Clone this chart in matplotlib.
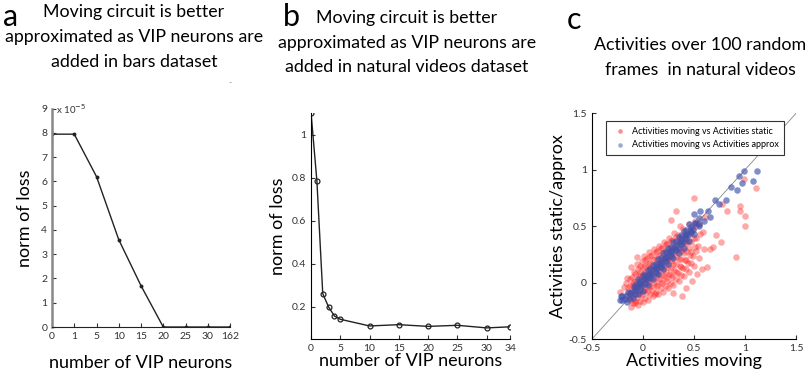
import matplotlib
matplotlib.use("Agg")
import matplotlib.pyplot as plt

plt.rcParams['font.family'] = ['Lato', 'DejaVu Sans']

# ---------------- Panel a data ----------------
a_labels = ['0', '1', '5', '10', '15', '20', '25', '30', '162']
a_loss = [7.95, 7.95, 6.2, 3.6, 1.7, 0.0, 0.0, 0.0, 0.0]   # x 1e-5

# ---------------- Panel b data ----------------
b_x = [0, 1, 2, 3, 4, 5, 10, 15, 20, 25, 30, 34]
b_loss = [1.1, 0.785, 0.262, 0.200, 0.158, 0.143, 0.112, 0.118, 0.110, 0.115, 0.103, 0.108]
b_ticks = [0, 5, 10, 15, 20, 25, 30, 34]

# ---------------- Panel c data ----------------
red_x = [-0.15, -0.14, -0.16, -0.13, -0.15,
         -0.10, -0.11, -0.09, -0.10, -0.11, -0.09, -0.10,
         -0.05, -0.06, -0.04, -0.05, -0.06, -0.04, -0.05, -0.06,
         0.00, -0.01, 0.01, 0.00, -0.01, 0.01, 0.00, -0.01, 0.01,
         0.05, 0.04, 0.06, 0.05, 0.04, 0.06, 0.05, 0.04, 0.06,
         0.10, 0.09, 0.11, 0.10, 0.09, 0.11, 0.10, 0.09, 0.11,
         0.15, 0.14, 0.16, 0.15, 0.14, 0.16, 0.15, 0.14, 0.16,
         0.20, 0.19, 0.21, 0.20, 0.19, 0.21, 0.20, 0.19, 0.21,
         0.25, 0.24, 0.26, 0.25, 0.24, 0.26, 0.25, 0.24, 0.26,
         0.30, 0.29, 0.31, 0.30, 0.29, 0.31, 0.30, 0.29, 0.31,
         0.35, 0.34, 0.36, 0.35, 0.34, 0.36, 0.35, 0.34, 0.36,
         0.40, 0.39, 0.41, 0.40, 0.39, 0.41, 0.40, 0.39,
         0.45, 0.44, 0.46, 0.45, 0.44, 0.46, 0.45,
         0.50, 0.49, 0.51, 0.50, 0.49, 0.51,
         0.55, 0.54, 0.56, 0.55,
         0.60, 0.59, 0.61,
         -0.125, -0.125, -0.125, -0.125,
         -0.075, -0.075, -0.075, -0.075, -0.075,
         -0.025, -0.025, -0.025, -0.025, -0.025, -0.025, -0.025,
         0.025, 0.025, 0.025, 0.025, 0.025, 0.025, 0.025,
         0.075, 0.075, 0.075, 0.075, 0.075, 0.075, 0.075,
         0.125, 0.125, 0.125, 0.125, 0.125, 0.125, 0.125,
         0.175, 0.175, 0.175, 0.175, 0.175, 0.175, 0.175,
         0.225, 0.225, 0.225, 0.225, 0.225, 0.225, 0.225,
         0.275, 0.275, 0.275, 0.275, 0.275, 0.275, 0.275,
         0.325, 0.325, 0.325, 0.325, 0.325, 0.325, 0.325,
         0.375, 0.375, 0.375, 0.375, 0.375, 0.375,
         0.425, 0.425, 0.425, 0.425, 0.425,
         0.475, 0.475, 0.475, 0.475,
         0.525, 0.525, 0.525,
         0.50, 0.78, 0.95, 0.99, 1.11, 1.00, 1.00, 0.95, 0.91, 0.77,
         0.69, 0.63, 0.53, 0.38, 0.30, 0.33, 0.28, 0.82, -0.22, -0.12,
         -0.08, -0.06, -0.12, 0.42, 0.58, 0.66, 0.72, 0.48, -0.18, 0.12]
red_y = [-0.10, -0.05, 0.00, -0.14, 0.04,
         -0.18, -0.12, -0.06, 0.00, 0.05, 0.10, -0.02,
         -0.20, -0.13, -0.08, -0.03, 0.02, 0.07, 0.12, 0.17,
         -0.17, -0.11, -0.06, -0.01, 0.04, 0.09, 0.14, 0.19, 0.24,
         -0.15, -0.08, -0.03, 0.02, 0.07, 0.12, 0.17, 0.22, 0.27,
         -0.12, -0.06, 0.00, 0.05, 0.10, 0.15, 0.20, 0.25, 0.30,
         -0.10, -0.03, 0.03, 0.08, 0.13, 0.18, 0.23, 0.28, 0.33,
         -0.08, 0.00, 0.06, 0.11, 0.16, 0.21, 0.26, 0.31, 0.36,
         -0.05, 0.02, 0.08, 0.14, 0.19, 0.24, 0.29, 0.34, 0.40,
         -0.02, 0.05, 0.11, 0.17, 0.22, 0.27, 0.32, 0.38, 0.44,
         0.02, 0.09, 0.15, 0.21, 0.26, 0.31, 0.36, 0.42, 0.50,
         0.06, 0.13, 0.20, 0.26, 0.31, 0.36, 0.42, 0.48,
         0.10, 0.18, 0.25, 0.31, 0.37, 0.43, 0.52,
         0.15, 0.24, 0.32, 0.40, 0.47, 0.55,
         0.22, 0.33, 0.43, 0.52,
         0.30, 0.45, 0.58,
         -0.15, -0.09, -0.03, 0.03,
         -0.16, -0.10, -0.04, 0.02, 0.08,
         -0.16, -0.10, -0.05, 0.00, 0.05, 0.10, 0.15,
         -0.13, -0.06, 0.00, 0.05, 0.10, 0.15, 0.20,
         -0.10, -0.04, 0.02, 0.08, 0.13, 0.18, 0.24,
         -0.08, -0.02, 0.04, 0.10, 0.16, 0.21, 0.27,
         -0.05, 0.01, 0.07, 0.13, 0.19, 0.25, 0.31,
         -0.03, 0.04, 0.10, 0.16, 0.22, 0.28, 0.34,
         0.00, 0.07, 0.13, 0.19, 0.25, 0.31, 0.37,
         0.03, 0.10, 0.17, 0.23, 0.29, 0.35, 0.41,
         0.07, 0.14, 0.21, 0.28, 0.34, 0.40,
         0.12, 0.20, 0.28, 0.35, 0.42,
         0.18, 0.27, 0.36, 0.45,
         0.28, 0.40, 0.50,
         0.75, 0.70, 0.68, 0.92, 0.84, 0.59, 0.50, 0.64, 0.23, 0.36,
         0.32, 0.14, 0.08, -0.12, -0.09, 0.64, 0.56, 0.64, -0.08, -0.21,
         -0.18, 0.23, 0.14, -0.05, 0.12, 0.30, 0.42, 0.02, -0.04, -0.10]

blue_x = [-0.20, -0.21,
          -0.15, -0.16, -0.14,
          -0.10, -0.11, -0.09,
          -0.05, -0.06, -0.04, -0.05,
          0.00, -0.01, 0.01, 0.00,
          0.05, 0.04, 0.06, 0.05,
          0.10, 0.09, 0.11, 0.10,
          0.15, 0.14, 0.16, 0.15,
          0.20, 0.19, 0.21, 0.20,
          0.25, 0.24, 0.26, 0.25,
          0.30, 0.29, 0.31, 0.30,
          0.35, 0.34, 0.36, 0.35,
          0.40, 0.39, 0.41, 0.40,
          0.45, 0.44, 0.46,
          0.50, 0.49, 0.51,
          -0.175, -0.125, -0.125,
          -0.075, -0.075, -0.075, -0.025, -0.025, -0.025,
          0.025, 0.025, 0.025, 0.075, 0.075, 0.075,
          0.125, 0.125, 0.125, 0.175, 0.175, 0.175,
          0.225, 0.225, 0.225, 0.275, 0.275, 0.275,
          0.325, 0.325, 0.325, 0.375, 0.375, 0.375,
          0.425, 0.425, 0.425, 0.475, 0.475, 0.55, 0.55,
          0.99, 1.12, 1.08, 0.94, 0.86, 0.92, 0.81, 0.71, 0.64, 0.56,
          0.50, 0.51, -0.22, -0.20, 0.60, 0.66, 0.75, 0.55, 0.45, 0.97]
blue_y = [-0.15, -0.12,
          -0.17, -0.12, -0.08,
          -0.13, -0.08, -0.04,
          -0.10, -0.05, 0.00, 0.03,
          -0.07, -0.02, 0.03, 0.07,
          -0.02, 0.03, 0.07, 0.11,
          0.03, 0.08, 0.12, 0.16,
          0.08, 0.12, 0.17, 0.21,
          0.12, 0.17, 0.21, 0.26,
          0.17, 0.22, 0.26, 0.31,
          0.22, 0.27, 0.31, 0.36,
          0.26, 0.31, 0.36, 0.41,
          0.31, 0.36, 0.41, 0.46,
          0.37, 0.42, 0.47,
          0.43, 0.48, 0.53,
          -0.14, -0.13, -0.09,
          -0.10, -0.06, -0.02, -0.06, -0.02, 0.02,
          -0.01, 0.03, 0.07, 0.04, 0.08, 0.12,
          0.09, 0.13, 0.17, 0.14, 0.18, 0.22,
          0.19, 0.23, 0.27, 0.24, 0.28, 0.32,
          0.29, 0.33, 0.37, 0.34, 0.38, 0.42,
          0.39, 0.43, 0.47, 0.45, 0.49, 0.52, 0.57,
          0.99, 0.99, 0.90, 0.95, 0.85, 0.82, 0.73, 0.73, 0.64, 0.64,
          0.61, 0.53, -0.15, -0.12, 0.55, 0.58, 0.70, 0.50, 0.52, 0.88]

fig = plt.figure(figsize=(8.1, 3.81), dpi=100)

tick_fs = 7.5
label_fs = 13
title_fs = 12.8

# ---------------- Panel a ----------------
axa = fig.add_axes([0.0642, 0.1417, 0.2198, 0.573])
xa = list(range(len(a_labels)))
axa.plot(xa, a_loss, color='#222222', lw=1.0, marker='o', ms=1.8)
axa.set_xlim(0, len(a_labels) - 1)
axa.set_ylim(0, 9)
axa.set_xticks(xa)
axa.set_xticklabels(a_labels)
axa.set_yticks(range(10))
for s in ['top', 'right']:
    axa.spines[s].set_visible(False)
axa.spines['left'].set_color('#888888')
axa.spines['left'].set_linewidth(1.8)
axa.spines['bottom'].set_color('#222222')
axa.tick_params(direction='in', labelsize=tick_fs, length=3, colors='#333333')
axa.set_xlabel('number of VIP neurons', fontsize=label_fs, labelpad=10)
axa.set_ylabel('norm of loss', fontsize=label_fs, labelpad=6)
axa.text(0.02, 1.0, r'x 10$^{-5}$', transform=axa.transAxes, fontsize=7,
         color='#333333', va='center', ha='left')
fig.text(0.284, 1 - 83 / 381, '-', fontsize=6, color='#777777', ha='center', va='center')

# ---------------- Panel b ----------------
axb = fig.add_axes([0.384, 0.1094, 0.2457, 0.594])
axb.plot(b_x, b_loss, color='#222222', lw=1.0, marker='o', ms=3.5,
         mfc='none', mew=0.9)
axb.set_xlim(0, 34)
axb.set_ylim(0.05, 1.1)
axb.set_xticks(b_ticks)
axb.set_yticks([0.2, 0.4, 0.6, 0.8, 1.0])
axb.set_yticklabels(['0.2', '0.4', '0.6', '0.8', '1'])
for s in ['top', 'right']:
    axb.spines[s].set_visible(False)
axb.tick_params(direction='in', labelsize=tick_fs, length=3, colors='#333333')
axb.set_xlabel('number of VIP neurons', fontsize=label_fs, labelpad=0)
axb.set_ylabel('norm of loss', fontsize=label_fs, labelpad=4)

# ---------------- Panel c ----------------
axc = fig.add_axes([0.7305, 0.1094, 0.2522, 0.593])
axc.plot([-0.5, 1.5], [-0.5, 1.5], color='#888888', lw=0.6, zorder=1)
axc.scatter(red_x, red_y, s=22, color='#ff1a1a', alpha=0.38, lw=0,
            label='Activities moving vs Activities static', zorder=2)
axc.scatter(blue_x, blue_y, s=22, color='#3f52ad', alpha=0.65, lw=0,
            label='Activities moving vs Activities approx', zorder=3)
axc.set_xlim(-0.5, 1.5)
axc.set_ylim(-0.5, 1.5)
axc.set_xticks([-0.5, 0, 0.5, 1, 1.5])
axc.set_xticklabels(['-0.5', '0', '0.5', '1', '1.5'])
axc.set_yticks([-0.5, 0, 0.5, 1, 1.5])
axc.set_yticklabels(['-0.5', '0', '0.5', '1', '1.5'])
for s in ['top', 'right']:
    axc.spines[s].set_visible(False)
axc.tick_params(direction='in', labelsize=tick_fs, length=3, colors='#333333')
axc.set_xlabel('Activities moving', fontsize=label_fs, labelpad=0)
axc.set_ylabel('Activities static/approx', fontsize=label_fs, labelpad=2)
leg = axc.legend(loc='upper right', bbox_to_anchor=(0.965, 0.985), fontsize=6.5,
                 frameon=True, fancybox=False, edgecolor='#333333',
                 handletextpad=0.3, borderpad=0.6, labelspacing=0.5,
                 markerscale=0.7, handlelength=2.0, framealpha=1.0)
leg.get_frame().set_linewidth(0.8)
for h in leg.legend_handles:
    h.set_alpha(0.5)

# ---------------- Titles and panel letters ----------------
fig.text(11 / 810, 1 - 17 / 381, 'a', fontsize=22, va='center', ha='center')
fig.text(291 / 810, 1 - 17 / 381, 'b', fontsize=22, va='center', ha='center')
fig.text(574 / 810, 1 - 20 / 381, 'c', fontsize=22, va='center', ha='center')

title_a = ['Moving circuit is better', 'approximated as VIP neurons are', 'added in bars dataset']
title_b = ['Moving circuit is better', 'approximated as VIP neurons are', 'added in natural videos dataset']
title_c = ['Activities over 100 random', 'frames  in natural videos']

for line, yy in zip(title_a, [12, 37, 62]):
    fig.text(134 / 810, 1 - yy / 381, line, fontsize=title_fs, ha='center', va='center')
for line, yy in zip(title_b, [18, 43, 67]):
    fig.text(407 / 810, 1 - yy / 381, line, fontsize=title_fs, ha='center', va='center')
for line, yy in zip(title_c, [45, 70]):
    fig.text(700 / 810, 1 - yy / 381, line, fontsize=title_fs, ha='center', va='center')

fig.savefig('out.png', dpi=100)
